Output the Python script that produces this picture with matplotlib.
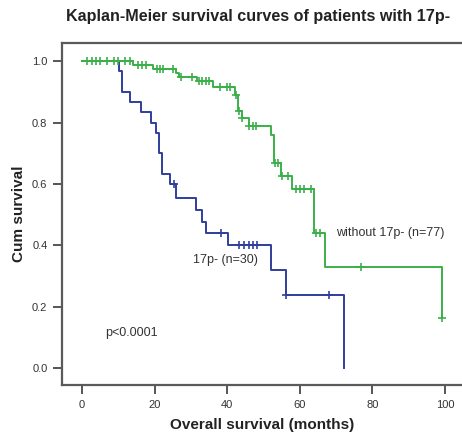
import numpy as np
import matplotlib
matplotlib.use('Agg')
import matplotlib.pyplot as plt

plt.rcParams['font.family'] = ['Liberation Sans', 'DejaVu Sans']

# 17p- (n=30): event times (months) and survival after each step
t_17p = [0, 10.3, 10.9, 13.2, 16.2, 19.0, 20.4, 21.1, 22.0, 24.2, 26.0,
         31.3, 33.2, 34.1, 40.3, 52.2, 56.1, 72.1]
s_17p = [1.0, 0.967, 0.90, 0.867, 0.833, 0.80, 0.767, 0.70, 0.633, 0.60, 0.555,
         0.515, 0.476, 0.442, 0.40, 0.32, 0.239, 0.0]
c_17p = [25.3, 38.2, 43.2, 44.7, 46.0, 47.2, 48.1, 56.1, 68.1]

# without 17p- (n=77)
t_wo = [0, 14.1, 19.5, 26.0, 26.8, 31.8, 36.2, 42.1, 43.1, 44.0, 46.1,
        52.1, 52.9, 54.8, 57.8, 64.0, 66.9, 99.1]
s_wo = [1.0, 0.987, 0.974, 0.960, 0.949, 0.934, 0.916, 0.889, 0.838, 0.814, 0.789,
        0.759, 0.667, 0.627, 0.585, 0.442, 0.329, 0.164]
c_wo = [1.3, 2.7, 3.9, 5.1, 6.8, 8.8, 10.0, 11.8, 13.2, 15.5, 16.6, 17.6,
        20.6, 21.5, 22.2, 25.2, 27.2, 30.2, 32.3, 33.2, 34.2, 35.1,
        38.0, 39.9, 40.8, 42.3, 43.3, 44.1, 46.1, 47.0, 47.9,
        53.2, 53.9, 55.0, 56.8, 59.0, 60.0, 61.2, 63.1, 64.6, 65.6, 77.0, 99.1]

x_ticks = [0, 20, 40, 60, 80, 100]
y_ticks = [0.0, 0.2, 0.4, 0.6, 0.8, 1.0]

blue = '#2f3f9c'
green = '#3bb04a'


def km_value(times, surv, t):
    idx = np.searchsorted(times, t, side='right') - 1
    return np.array(surv)[idx]


fig = plt.figure(figsize=(4.62, 4.42), dpi=100)
ax = fig.add_axes([62 / 462, 57 / 442, 1 - 62 / 462, 342 / 442])

for t, s, c, col in [(t_17p, s_17p, c_17p, blue), (t_wo, s_wo, c_wo, green)]:
    ax.step(t, s, where='post', color=col, lw=1.4)
    ax.plot(c, km_value(t, s, c), ls='none', marker='+', ms=6, mew=1.2, color=col)

ax.set_xlim(-5.5, 104.7)
ax.set_ylim(-0.054, 1.059)
ax.set_xticks(x_ticks)
ax.set_yticks(y_ticks)
ax.set_yticklabels([f'{v:.1f}' for v in y_ticks])

for side in ['left', 'top', 'bottom']:
    ax.spines[side].set_color('#5a5a5a')
    ax.spines[side].set_linewidth(1.6)
ax.spines['right'].set_visible(False)
ax.tick_params(axis='both', direction='out', length=6.5, width=1.4,
               color='#555555', labelsize=8, labelcolor='#333333', pad=4)

ax.text(30.6, 0.352, '17p- (n=30)', fontsize=9, color='#333333', va='center')
ax.text(70.0, 0.44, 'without 17p- (n=77)', fontsize=9, color='#333333', va='center')
ax.text(6.3, 0.115, 'p<0.0001', fontsize=9, color='#333333', va='center')

ax.set_xlabel('Overall survival (months)', fontsize=11, fontweight='bold',
              color='#222222', labelpad=6)
ax.set_ylabel('Cum survival', fontsize=11, fontweight='bold', color='#222222')
fig.text(258 / 462, 1 - 17 / 442, 'Kaplan-Meier survival curves of patients with 17p-',
         fontsize=11.6, fontweight='bold', color='#222222', ha='center', va='center')

fig.savefig('out.png', dpi=100)
